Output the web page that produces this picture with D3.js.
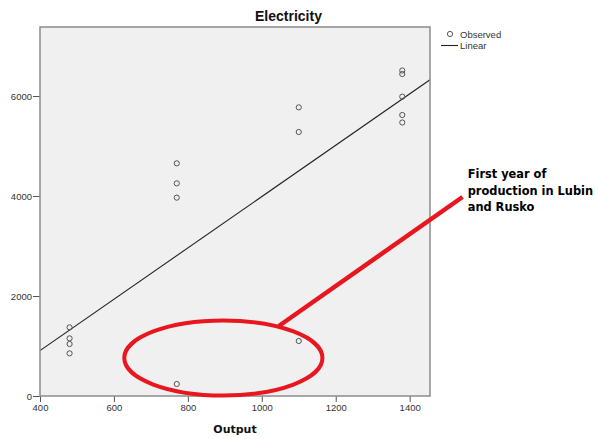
<!DOCTYPE html>
<html>
<head>
<meta charset="utf-8">
<script src="https://cdn.jsdelivr.net/npm/d3@7"></script>
<style>
  body { margin: 0; background: #fff; }
  svg { display: block; font-family: "Liberation Sans", Arial, sans-serif; }
</style>
</head>
<body>
<svg id="chart" width="595" height="439"></svg>
<script>
// Observed points
const outputX = [480, 480, 480, 480, 770, 770, 770, 770, 1100, 1100, 1100, 1380, 1380, 1380, 1380, 1380];
const electricityY = [1373, 1153, 1040, 853, 4653, 4253, 3967, 240, 5773, 5280, 1100, 6510, 6440, 5987, 5620, 5470];
const xTicks = [400, 600, 800, 1000, 1200, 1400];
const yTicks = [0, 2000, 4000, 6000];
const noteLines = ["First year of", "production in Lubin", "and Rusko"];
// annotation in data units: ellipse centre/radii, pointer line, text anchor
const noteEllipse = [896, 760, 268, 750];
const notePointer = [[1046, 1400], [1543, 3980]];
const noteText = [1557, 4360];

(function() {
    const svg = d3.select("#chart");
    const plot = { left: 40, top: 27, right: 430, bottom: 396 };
    const red = "#e8161e";

    const x = d3.scaleLinear().domain([400, 1455]).range([plot.left, plot.right]);
    const y = d3.scaleLinear().domain([0, 7380]).range([plot.bottom, plot.top]);

    svg.append("rect")
        .attr("x", plot.left).attr("y", plot.top)
        .attr("width", plot.right - plot.left).attr("height", plot.bottom - plot.top)
        .attr("fill", "#f0f0f0");

    // least squares fit of the observed points
    const pts = outputX.map((v, i) => [v, electricityY[i]]);
    const mx = d3.mean(outputX), my = d3.mean(electricityY);
    const slope = d3.sum(pts, p => (p[0] - mx) * (p[1] - my)) / d3.sum(pts, p => (p[0] - mx) ** 2);
    const icpt = my - slope * mx;

    svg.append("defs").append("clipPath").attr("id", "clip")
        .append("rect")
        .attr("x", plot.left).attr("y", plot.top)
        .attr("width", plot.right - plot.left).attr("height", plot.bottom - plot.top);

    svg.append("path")
        .datum(x.domain().map(v => [v, icpt + slope * v]))
        .attr("clip-path", "url(#clip)")
        .attr("fill", "none")
        .attr("stroke", "#222")
        .attr("stroke-width", 1.1)
        .attr("d", d3.line().x(d => x(d[0])).y(d => y(d[1])));

    svg.append("g").selectAll("circle")
        .data(pts)
        .enter().append("circle")
        .attr("cx", d => x(d[0]))
        .attr("cy", d => y(d[1]))
        .attr("r", 2.6)
        .attr("fill", "none")
        .attr("stroke", "#555")
        .attr("stroke-width", 1);

    // axes
    const xAxis = svg.append("g")
        .attr("transform", `translate(0,${plot.bottom})`)
        .call(d3.axisBottom(x).tickValues(xTicks).tickFormat(d3.format("d"))
            .tickSize(6).tickSizeOuter(0).tickPadding(2));
    const yAxis = svg.append("g")
        .attr("transform", `translate(${plot.left},0)`)
        .call(d3.axisLeft(y).tickValues(yTicks).tickFormat(d3.format("d"))
            .tickSize(7).tickSizeOuter(0).tickPadding(1));
    [xAxis, yAxis].forEach(g => {
        g.select(".domain").remove();
        g.selectAll("line").attr("stroke", "#555");
        g.selectAll("text")
            .attr("fill", "#333")
            .style("font-family", "Liberation Sans, Arial, sans-serif")
            .style("font-size", "9.5px");
    });

    svg.append("rect")
        .attr("x", plot.left).attr("y", plot.top)
        .attr("width", plot.right - plot.left).attr("height", plot.bottom - plot.top)
        .attr("fill", "none")
        .attr("stroke", "#8c8c8c")
        .attr("stroke-width", 1.5);

    svg.append("text")
        .attr("x", 288.5).attr("y", 21)
        .attr("text-anchor", "middle")
        .style("font-size", "14px").style("font-weight", "bold")
        .attr("fill", "#111")
        .text("Electricity");

    svg.append("text")
        .attr("x", (plot.left + plot.right) / 2).attr("y", 433)
        .attr("text-anchor", "middle")
        .style("font-family", "DejaVu Sans, sans-serif")
        .style("font-size", "11px").style("font-weight", "bold")
        .attr("fill", "#111")
        .text("Output");

    // legend
    const lg = svg.append("g").style("font-size", "9.5px").attr("fill", "#333");
    lg.append("circle").attr("cx", 450).attr("cy", 34).attr("r", 2.6)
        .attr("fill", "none").attr("stroke", "#555");
    lg.append("text").attr("x", 460).attr("y", 38).text("Observed");
    lg.append("line").attr("x1", 441).attr("x2", 458).attr("y1", 45.5).attr("y2", 45.5)
        .attr("stroke", "#222").attr("stroke-width", 1.1);
    lg.append("text").attr("x", 460).attr("y", 49).text("Linear");

    // red annotation
    svg.append("ellipse")
        .attr("cx", x(noteEllipse[0])).attr("cy", y(noteEllipse[1]))
        .attr("rx", x(noteEllipse[0] + noteEllipse[2]) - x(noteEllipse[0]))
        .attr("ry", y(noteEllipse[1] - noteEllipse[3]) - y(noteEllipse[1]))
        .attr("fill", "none").attr("stroke", red).attr("stroke-width", 4);
    svg.append("path")
        .datum(notePointer)
        .attr("fill", "none").attr("stroke", red).attr("stroke-width", 4.5)
        .attr("d", d3.line().x(d => x(d[0])).y(d => y(d[1])));
    svg.append("text")
        .attr("x", x(noteText[0])).attr("y", y(noteText[1]))
        .style("font-family", "DejaVu Sans, sans-serif")
        .style("font-size", "11.4px").style("font-weight", "bold")
        .attr("fill", "#000")
        .selectAll("tspan")
        .data(noteLines)
        .enter().append("tspan")
        .attr("x", x(noteText[0]))
        .attr("dy", (d, i) => i === 0 ? 0 : 16.5)
        .text(d => d);
})();
</script>
</body>
</html>
